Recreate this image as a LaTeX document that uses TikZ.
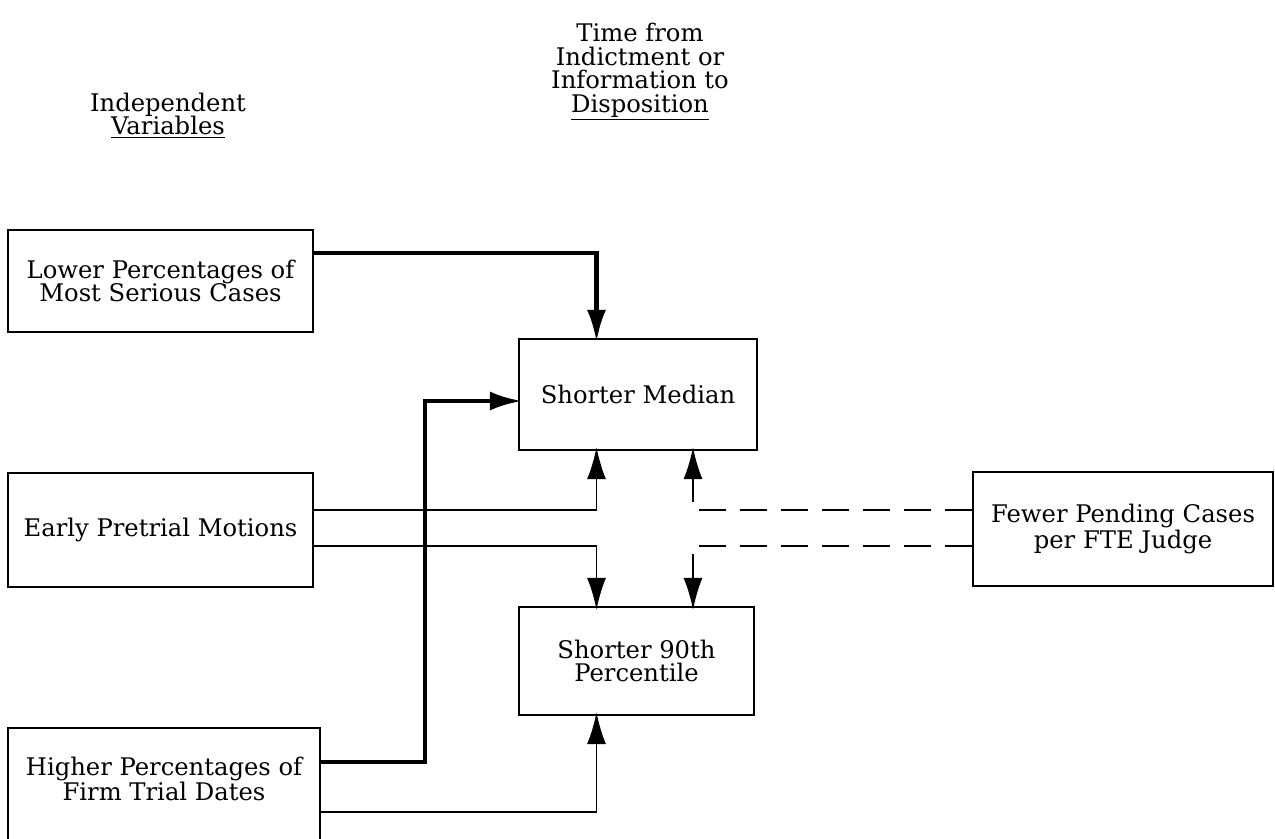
\documentclass[tikz,border=0pt]{standalone}
\usepackage{fontspec}
\setmainfont{DejaVu Serif}
\usetikzlibrary{arrows.meta}

\begin{document}
\begin{tikzpicture}[
    >={Latex[length=0.64cm, width=0.38cm]},
    font=\fontsize{13.8}{13.4}\selectfont,
    box/.style={draw, line width=1.1pt, align=center, inner sep=0pt},
    link/.style={->, line width=1.1pt, shorten >=-2.2pt},
    boldlink/.style={->, line width=2.4pt, shorten >=-2.2pt},
    dashlink/.style={->, line width=1.1pt, shorten >=-2.2pt, dash pattern=on 0.54cm off 0.28cm}
  ]
    \useasboundingbox (0, 0) rectangle (25.5, -16.78);

    \node[align=center] (indep) at (3.36, -2.31) {Independent\\\underline{Variables}};
    \node[align=center] (time) at (12.8, -1.44) {Time from\\Indictment or\\Information to\\\underline{Disposition}};

    \node[box, minimum width=6.10cm, minimum height=2.04cm] (lower) at (3.21, -5.62) {Lower Percentages of\\Most Serious Cases};
    \node[box, minimum width=6.10cm, minimum height=2.28cm] (early) at (3.21, -10.60) {Early Pretrial Motions};
    \node[box, minimum width=6.24cm, minimum height=2.60cm, anchor=north] (higher) at (3.28, -14.54) {};
    \node[align=center] (highertxt) at (3.28, -15.58) {Higher Percentages of\\Firm Trial Dates};

    \node[box, minimum width=4.76cm, minimum height=2.22cm] (med) at (12.76, -7.89) {Shorter Median};
    \node[box, minimum width=4.70cm, minimum height=2.16cm] (p90) at (12.73, -13.22) {Shorter 90th\\Percentile};
    \node[box, minimum width=6.00cm, minimum height=2.28cm] (fewer) at (22.46, -10.58) {Fewer Pending Cases\\per FTE Judge};

    \coordinate (left) at (11.93, 0);
    \coordinate (right) at (13.86, 0);
    \coordinate (rise) at (8.50, 0);
    \coordinate (medin) at ([yshift=-0.13cm]med.west);

    \draw[boldlink] ([yshift=0.56cm]lower.east) -| (med.north -| left);
    \draw[boldlink] ([yshift=-0.70cm]higher.north east) -| (medin -| rise) -- (medin);
    \draw[link] ([yshift=0.40cm]early.east) -| (med.south -| left);
    \draw[link] ([yshift=-0.32cm]early.east) -| (p90.north -| left);
    \draw[link] ([yshift=-1.70cm]higher.north east) -| (p90.south -| left);
    \draw[dashlink] ([yshift=0.38cm]fewer.west) -| (med.south -| right);
    \draw[dashlink] ([yshift=-0.34cm]fewer.west) -| (p90.north -| right);
  \end{tikzpicture}
\end{document}
